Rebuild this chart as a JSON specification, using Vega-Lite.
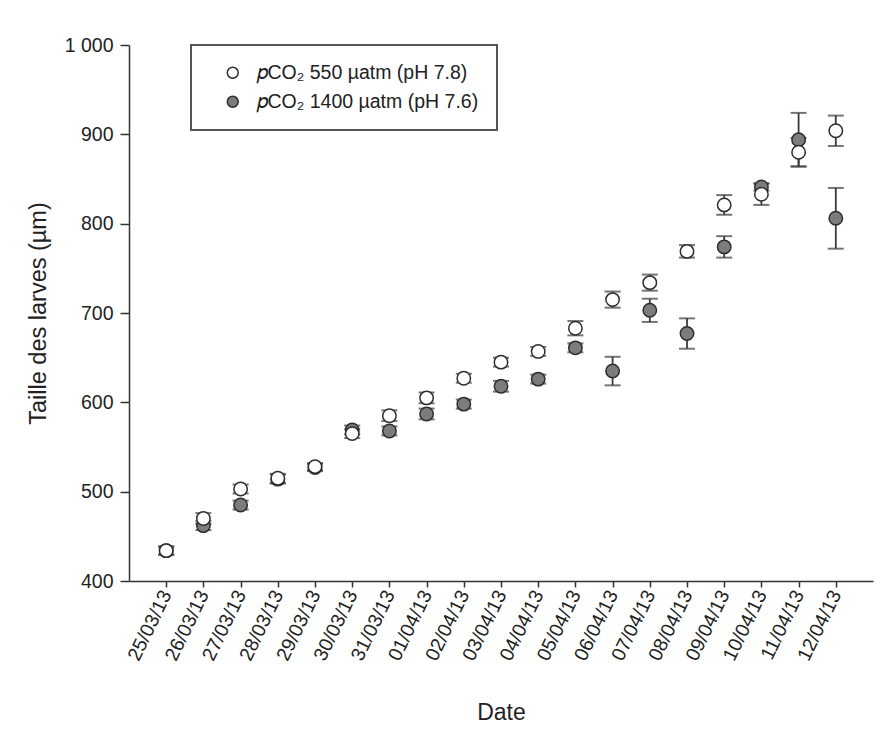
{
  "$schema": "https://vega.github.io/schema/vega-lite/v6.json",
  "autosize": {"type": "none"},
  "width": 744,
  "height": 536,
  "padding": {"left": 129, "top": 45, "right": 23, "bottom": 158},
  "background": "#ffffff",
  "data": {
    "values": [
      {"date": "25/03/13", "group": "𝑝CO₂ 1400 µatm (pH 7.6)", "mean": 434, "low": 430, "high": 438},
      {"date": "26/03/13", "group": "𝑝CO₂ 1400 µatm (pH 7.6)", "mean": 462, "low": 457, "high": 467},
      {"date": "27/03/13", "group": "𝑝CO₂ 1400 µatm (pH 7.6)", "mean": 485, "low": 480, "high": 490},
      {"date": "28/03/13", "group": "𝑝CO₂ 1400 µatm (pH 7.6)", "mean": 514, "low": 509, "high": 519},
      {"date": "29/03/13", "group": "𝑝CO₂ 1400 µatm (pH 7.6)", "mean": 527, "low": 523, "high": 531},
      {"date": "30/03/13", "group": "𝑝CO₂ 1400 µatm (pH 7.6)", "mean": 569, "low": 564, "high": 574},
      {"date": "31/03/13", "group": "𝑝CO₂ 1400 µatm (pH 7.6)", "mean": 568, "low": 563, "high": 573},
      {"date": "01/04/13", "group": "𝑝CO₂ 1400 µatm (pH 7.6)", "mean": 587, "low": 581, "high": 593},
      {"date": "02/04/13", "group": "𝑝CO₂ 1400 µatm (pH 7.6)", "mean": 598, "low": 593, "high": 603},
      {"date": "03/04/13", "group": "𝑝CO₂ 1400 µatm (pH 7.6)", "mean": 618, "low": 612, "high": 624},
      {"date": "04/04/13", "group": "𝑝CO₂ 1400 µatm (pH 7.6)", "mean": 626, "low": 621, "high": 631},
      {"date": "05/04/13", "group": "𝑝CO₂ 1400 µatm (pH 7.6)", "mean": 661, "low": 656, "high": 666},
      {"date": "06/04/13", "group": "𝑝CO₂ 1400 µatm (pH 7.6)", "mean": 635, "low": 619, "high": 651},
      {"date": "07/04/13", "group": "𝑝CO₂ 1400 µatm (pH 7.6)", "mean": 703, "low": 690, "high": 716},
      {"date": "08/04/13", "group": "𝑝CO₂ 1400 µatm (pH 7.6)", "mean": 677, "low": 660, "high": 694},
      {"date": "09/04/13", "group": "𝑝CO₂ 1400 µatm (pH 7.6)", "mean": 774, "low": 762, "high": 786},
      {"date": "10/04/13", "group": "𝑝CO₂ 1400 µatm (pH 7.6)", "mean": 841, "low": 837, "high": 845},
      {"date": "11/04/13", "group": "𝑝CO₂ 1400 µatm (pH 7.6)", "mean": 894, "low": 864, "high": 924},
      {"date": "12/04/13", "group": "𝑝CO₂ 1400 µatm (pH 7.6)", "mean": 806, "low": 772, "high": 840},
      {"date": "25/03/13", "group": "𝑝CO₂ 550 µatm (pH 7.8)", "mean": 434, "low": 429, "high": 439},
      {"date": "26/03/13", "group": "𝑝CO₂ 550 µatm (pH 7.8)", "mean": 470, "low": 464, "high": 476},
      {"date": "27/03/13", "group": "𝑝CO₂ 550 µatm (pH 7.8)", "mean": 503, "low": 498, "high": 508},
      {"date": "28/03/13", "group": "𝑝CO₂ 550 µatm (pH 7.8)", "mean": 515, "low": 510, "high": 520},
      {"date": "29/03/13", "group": "𝑝CO₂ 550 µatm (pH 7.8)", "mean": 528, "low": 524, "high": 532},
      {"date": "30/03/13", "group": "𝑝CO₂ 550 µatm (pH 7.8)", "mean": 565, "low": 560, "high": 570},
      {"date": "31/03/13", "group": "𝑝CO₂ 550 µatm (pH 7.8)", "mean": 585, "low": 579, "high": 591},
      {"date": "01/04/13", "group": "𝑝CO₂ 550 µatm (pH 7.8)", "mean": 605, "low": 599, "high": 611},
      {"date": "02/04/13", "group": "𝑝CO₂ 550 µatm (pH 7.8)", "mean": 627, "low": 622, "high": 632},
      {"date": "03/04/13", "group": "𝑝CO₂ 550 µatm (pH 7.8)", "mean": 645, "low": 640, "high": 650},
      {"date": "04/04/13", "group": "𝑝CO₂ 550 µatm (pH 7.8)", "mean": 657, "low": 652, "high": 662},
      {"date": "05/04/13", "group": "𝑝CO₂ 550 µatm (pH 7.8)", "mean": 683, "low": 675, "high": 691},
      {"date": "06/04/13", "group": "𝑝CO₂ 550 µatm (pH 7.8)", "mean": 715, "low": 706, "high": 724},
      {"date": "07/04/13", "group": "𝑝CO₂ 550 µatm (pH 7.8)", "mean": 734, "low": 725, "high": 743},
      {"date": "08/04/13", "group": "𝑝CO₂ 550 µatm (pH 7.8)", "mean": 769, "low": 762, "high": 776},
      {"date": "09/04/13", "group": "𝑝CO₂ 550 µatm (pH 7.8)", "mean": 821, "low": 810, "high": 832},
      {"date": "10/04/13", "group": "𝑝CO₂ 550 µatm (pH 7.8)", "mean": 833, "low": 821, "high": 845},
      {"date": "11/04/13", "group": "𝑝CO₂ 550 µatm (pH 7.8)", "mean": 880, "low": 864, "high": 896},
      {"date": "12/04/13", "group": "𝑝CO₂ 550 µatm (pH 7.8)", "mean": 904, "low": 887, "high": 921}
    ]
  },
  "encoding": {
    "x": {
      "field": "date",
      "type": "ordinal",
      "sort": null,
      "scale": {"type": "point", "padding": 1},
      "axis": {
        "title": "Date",
        "labelAngle": -64,
        "labelFontSize": 19.5,
        "labelPadding": 4,
        "tickSize": 6,
        "titleFontSize": 23,
        "titlePadding": 38
      }
    }
  },
  "layer": [
    {
      "mark": {"type": "rule", "color": "#3a3a3a", "strokeWidth": 1.8},
      "encoding": {
        "y": {
          "field": "low",
          "type": "quantitative",
          "title": "Taille des larves (µm)",
          "scale": {"domain": [400, 1000], "nice": false, "zero": false},
          "axis": {
            "values": [400, 500, 600, 700, 800, 900, 1000],
            "labelExpr": "datum.value >= 1000 ? '1 000' : datum.label",
            "labelFontSize": 19.5,
            "labelPadding": 7,
            "tickSize": 9,
            "titleFontSize": 23.5,
            "titlePadding": 14
          }
        },
        "y2": {"field": "high"}
      }
    },
    {
      "mark": {"type": "tick", "color": "#3a3a3a", "size": 16, "thickness": 2},
      "encoding": {
        "y": {"field": "low", "type": "quantitative", "title": "Taille des larves (µm)"}
      }
    },
    {
      "mark": {"type": "tick", "color": "#3a3a3a", "size": 16, "thickness": 2},
      "encoding": {
        "y": {"field": "high", "type": "quantitative", "title": "Taille des larves (µm)"}
      }
    },
    {
      "mark": {"type": "circle", "size": 180, "opacity": 1, "stroke": "#2e2e2e", "strokeWidth": 1.5},
      "encoding": {
        "y": {"field": "mean", "type": "quantitative", "title": "Taille des larves (µm)"},
        "fill": {
          "field": "group",
          "type": "nominal",
          "scale": {
            "domain": ["𝑝CO₂ 550 µatm (pH 7.8)", "𝑝CO₂ 1400 µatm (pH 7.6)"],
            "range": ["#ffffff", "#7c7c7c"]
          },
          "legend": {
            "title": null,
            "orient": "none",
            "legendX": 62,
            "legendY": 0,
            "symbolType": "circle",
            "symbolSize": 120,
            "symbolStrokeColor": "#2e2e2e",
            "symbolStrokeWidth": 1.5,
            "symbolOffset": 14,
            "labelFontSize": 19.5,
            "labelOffset": 14,
            "labelLimit": 500,
            "rowPadding": 8,
            "padding": 18,
            "strokeColor": "#555555"
          }
        }
      }
    }
  ],
  "config": {
    "view": {"stroke": null},
    "font": "Liberation Sans",
    "axis": {
      "grid": false,
      "domainColor": "#333333",
      "domainWidth": 1.5,
      "tickColor": "#333333",
      "tickWidth": 1.5,
      "labelColor": "#222222",
      "titleColor": "#222222",
      "labelFont": "Liberation Sans",
      "titleFont": "Liberation Sans",
      "titleFontWeight": "normal"
    },
    "legend": {
      "labelFont": "Liberation Sans",
      "labelColor": "#222222",
      "strokeWidth": 2
    }
  }
}
